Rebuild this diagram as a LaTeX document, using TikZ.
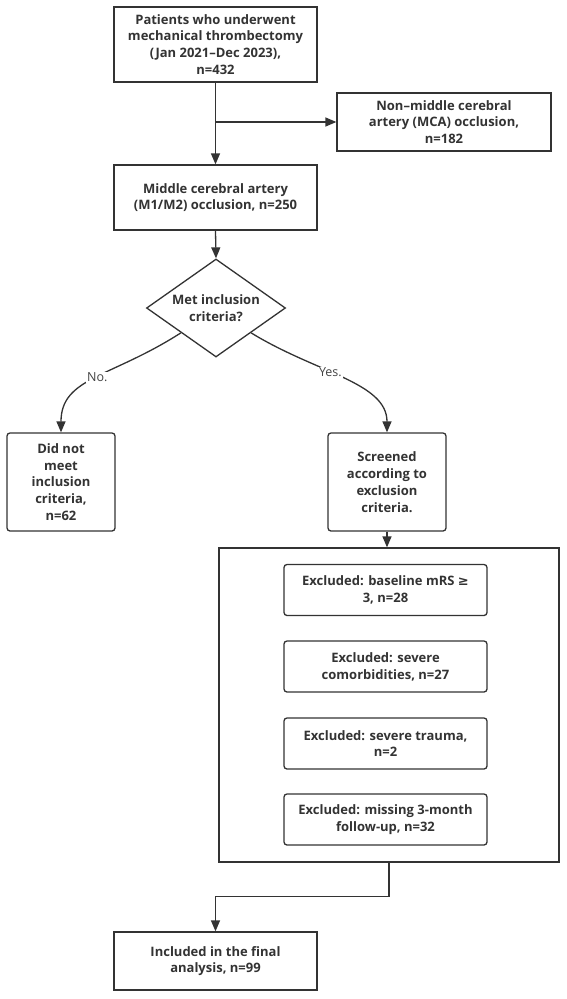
\documentclass[tikz,border=0pt]{standalone}
\usepackage{fontspec}
\setmainfont{Open Sans}
\newfontfamily\symfont{DejaVu Sans}
\usetikzlibrary{shapes.geometric,arrows.meta}
\definecolor{ink}{HTML}{333333}
\definecolor{labelgray}{HTML}{444444}
\begin{document}
\begin{tikzpicture}[x=1pt,y=-1pt,
  every node/.style={font=\fontsize{13}{16.8}\selectfont\bfseries, text=ink, align=center},
  box/.style={draw=ink, line width=1.3pt, inner sep=0pt, rectangle},
  rbox/.style={box, rounded corners=3pt},
  decision/.style={draw=ink, line width=1.3pt, diamond, inner sep=0pt, shape aspect=1.42},
  arr/.style={draw=ink, line width=1.3pt, -{Triangle[length=11pt,width=9pt]}},
  lab/.style={font=\fontsize{12.5}{15}\selectfont, text=labelgray, fill=white, inner sep=1pt}]
  \useasboundingbox[fill=white] (0,0) rectangle (566,999);

  % main column
  \node[box, minimum width=203pt, minimum height=75pt] (top) at (215.5,44.5)
    {Patients who underwent\\mechanical thrombectomy\\(Jan 2021–Dec 2023),\\n=432};
  \node[box, minimum width=214pt, minimum height=58pt] (nonmca) at (444,122)
    {Non–middle cerebral\\artery (MCA) occlusion,\\n=182};
  \node[box, minimum width=203pt, minimum height=65pt] (mca) at (215.5,197.5)
    {Middle cerebral artery\\(M1/M2) occlusion, n=250};
  \node[decision, minimum width=139pt, minimum height=98pt] (dia) at (216,308)
    {Met inclusion\\criteria?};

  % branches of the decision
  \node[rbox, minimum width=108pt, minimum height=98pt] (dn) at (61,482)
    {Did not\\meet\\inclusion\\criteria,\\n=62};
  \node[rbox, minimum width=118pt, minimum height=98pt] (scr) at (387,482)
    {Screened\\according to\\exclusion\\criteria.};

  % exclusion panel
  \node[box, minimum width=340pt, minimum height=314pt] (big) at (389,705) {};
  \node[rbox, minimum width=203pt, minimum height=51pt] (e1) at (385.5,590)
    {Excluded: baseline mRS {\symfont ≥}\\3, n=28};
  \node[rbox, minimum width=203pt, minimum height=51pt] (e2) at (385.5,666.5)
    {Excluded: severe\\comorbidities, n=27};
  \node[rbox, minimum width=203pt, minimum height=51pt] (e3) at (385.5,743.5)
    {Excluded: severe trauma,\\n=2};
  \node[rbox, minimum width=203pt, minimum height=51pt] (e4) at (385.5,819.5)
    {Excluded: missing 3-month\\follow-up, n=32};

  \node[box, minimum width=203pt, minimum height=58pt] (final) at (215.5,961)
    {Included in the final\\analysis, n=99};

  % connectors
  \coordinate (split) at (top.south |- nonmca.west);
  \draw[arr] (top.south) -- (mca.north);
  \draw[arr] (split) -- (nonmca.west);
  \draw[arr] (mca.south) -- (dia.north);
  \draw[arr] (dia.south west) .. controls +(-70,45) and +(0,-55) .. node[lab, pos=0.48] {No.} (dn.north);
  \draw[arr] (dia.south east) .. controls +(65,40) and +(0,-50) .. node[lab, pos=0.42] {Yes.} (scr.north);
  \draw[arr] (scr.south) -- (big.north -| scr.south);
  \draw[arr] (big.south) -- ++(0,34) -| (final.north);
\end{tikzpicture}
\end{document}
